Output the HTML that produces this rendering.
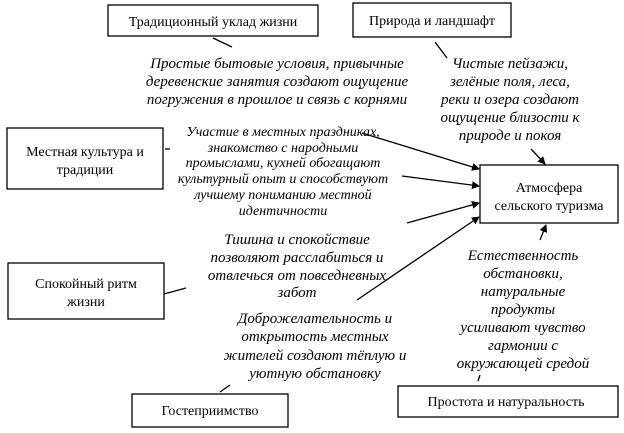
<!DOCTYPE html>
<html><head><meta charset="utf-8"><style>
html,body{margin:0;padding:0;background:#fff;width:624px;height:433px;overflow:hidden}
svg{display:block}
.b{font-family:"Liberation Serif",serif;font-size:14px;fill:#000}
.i{font-family:"Liberation Serif",serif;font-style:italic;font-size:15px;fill:#000}
</style></head><body>
<svg width="624" height="433" viewBox="0 0 624 433" xmlns="http://www.w3.org/2000/svg">
<defs><marker id="a" markerWidth="8" markerHeight="8" refX="7" refY="4" orient="auto" markerUnits="userSpaceOnUse"><path d="M0,0 L8,4 L0,8 z" fill="#000"/></marker></defs>
<g fill="none" stroke="#000" stroke-width="1.3">
<rect x="108" y="5" width="210" height="31"/>
<rect x="353" y="3" width="158" height="34"/>
<rect x="7" y="128" width="156" height="61"/>
<rect x="480" y="165" width="138" height="58"/>
<rect x="8" y="263" width="156" height="56"/>
<rect x="132" y="394" width="156" height="33"/>
<rect x="398" y="386" width="220" height="31"/>
<line x1="213" y1="38" x2="232" y2="47"/>
<line x1="435" y1="42" x2="447" y2="58"/>
<line x1="165" y1="149" x2="170" y2="149"/>
<line x1="164" y1="294" x2="186" y2="288"/>
<line x1="220" y1="392" x2="230" y2="385"/>
<line x1="478" y1="381" x2="480" y2="375"/>
<line x1="362" y1="133" x2="479" y2="169" marker-end="url(#a)"/>
<line x1="402" y1="176" x2="479" y2="186" marker-end="url(#a)"/>
<line x1="407" y1="223" x2="479" y2="203" marker-end="url(#a)"/>
<line x1="357" y1="300" x2="479" y2="217" marker-end="url(#a)"/>
<line x1="531" y1="149" x2="545" y2="164" marker-end="url(#a)"/>
<line x1="540" y1="240" x2="546" y2="225" marker-end="url(#a)"/>
</g>
<g class="b" text-anchor="middle">
<text x="213" y="26">Традиционный уклад жизни</text>
<text x="432" y="25">Природа и ландшафт</text>
<text x="85" y="156">Местная культура и</text>
<text x="85" y="174">традиции</text>
<text x="549" y="192">Атмосфера</text>
<text x="549" y="210">сельского туризма</text>
<text x="86" y="288">Спокойный ритм</text>
<text x="86" y="306">жизни</text>
<text x="210" y="415">Гостеприимство</text>
<text x="506" y="406">Простота и натуральность</text>
</g>
<g class="i" text-anchor="middle">
<text x="277" y="68">Простые бытовые условия, привычные</text>
<text x="277" y="86">деревенские занятия создают ощущение</text>
<text x="277" y="104">погружения в прошлое и связь с корнями</text>
<text x="510" y="68">Чистые пейзажи,</text>
<text x="510" y="86">зелёные поля, леса,</text>
<text x="510" y="104">реки и озера создают</text>
<text x="510" y="122">ощущение близости к</text>
<text x="510" y="140">природе и покоя</text>
<g style="font-size:14px">
<text x="283" y="136">Участие в местных праздниках,</text>
<text x="283" y="152">знакомство с народными</text>
<text x="283" y="167">промыслами, кухней обогащают</text>
<text x="283" y="183">культурный опыт и способствуют</text>
<text x="283" y="199">лучшему пониманию местной</text>
<text x="283" y="215">идентичности</text>
</g>
<text x="297" y="244">Тишина и спокойствие</text>
<text x="297" y="262">позволяют расслабиться и</text>
<text x="297" y="280">отвлечься от повседневных</text>
<text x="297" y="297">забот</text>
<text x="315" y="323">Доброжелательность и</text>
<text x="315" y="341">открытость местных</text>
<text x="315" y="360">жителей создают тёплую и</text>
<text x="315" y="378">уютную обстановку</text>
<text x="523" y="260">Естественность</text>
<text x="523" y="278">обстановки,</text>
<text x="523" y="296">натуральные</text>
<text x="523" y="314">продукты</text>
<text x="523" y="332">усиливают чувство</text>
<text x="523" y="350">гармонии с</text>
<text x="523" y="368">окружающей средой</text>
</g>
</svg>
</body></html>
